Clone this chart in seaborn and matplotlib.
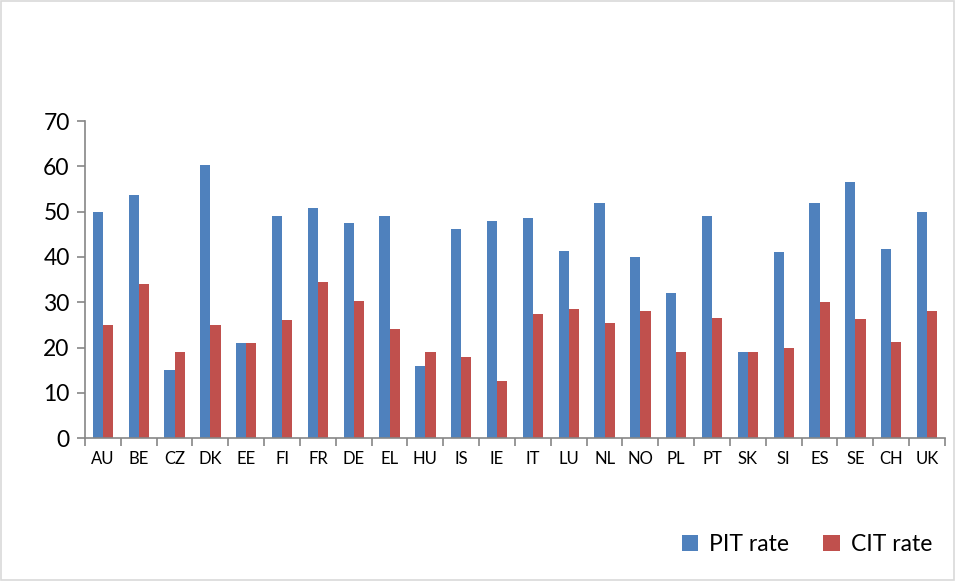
import numpy as np
import pandas as pd
import matplotlib
matplotlib.use("Agg")
import matplotlib.pyplot as plt
import seaborn as sns
from matplotlib.patches import Patch, Rectangle

# chart data
countries = ["AU", "BE", "CZ", "DK", "EE", "FI", "FR", "DE", "EL", "HU", "IS", "IE",
             "IT", "LU", "NL", "NO", "PL", "PT", "SK", "SI", "ES", "SE", "CH", "UK"]
pit_rate = [50, 53.7, 15, 60.2, 21, 49, 50.7, 47.5, 49, 16, 46.2, 48,
            48.6, 41.3, 52, 40, 32, 49, 19, 41, 52, 56.6, 41.7, 50]
cit_rate = [25, 34, 19, 25, 21, 26, 34.4, 30.2, 24, 19, 18, 12.5,
            27.5, 28.6, 25.5, 28, 19, 26.5, 19, 20, 30, 26.3, 21.2, 28]
series = ["PIT rate", "CIT rate"]
colors = ["#4F81BD", "#C0504D"]

df = pd.DataFrame({
    "country": countries * 2,
    "rate": pit_rate + cit_rate,
    "series": [series[0]] * len(countries) + [series[1]] * len(countries),
})

sns.set_theme(style="white")
plt.rcParams["font.family"] = ["Lato", "DejaVu Sans"]
plt.rcParams["text.color"] = "black"
plt.rcParams["xtick.color"] = "black"
plt.rcParams["ytick.color"] = "black"

fig = plt.figure(figsize=(9.55, 5.81), dpi=100)
ax = fig.add_axes([0.089, 0.246, 0.9005, 0.5456])

sns.barplot(data=df, x="country", y="rate", hue="series", palette=colors,
            width=0.57, gap=0, ax=ax, legend=False, saturation=1,
            edgecolor="none")

ax.set_ylim(0, 70)
ax.set_xlim(-0.5, len(countries) - 0.5)
ax.set_yticks(range(0, 71, 10))
ax.set_xlabel("")
ax.set_ylabel("")

for side in ["top", "right"]:
    ax.spines[side].set_visible(False)
for side in ["left", "bottom"]:
    ax.spines[side].set_color("#868686")
    ax.spines[side].set_linewidth(1.2)

ax.tick_params(axis="y", which="major", direction="out", length=6, color="#868686",
               width=1.2, labelsize=16.5, left=True, pad=5, labelcolor="black")
ax.tick_params(axis="x", which="major", length=0, labelsize=12, pad=9,
               labelcolor="black")
ax.set_xticks(np.arange(-0.5, len(countries), 1), minor=True)
ax.tick_params(axis="x", which="minor", direction="out", length=6, color="#868686",
               width=1.2, bottom=True)

handles = [Patch(facecolor=c, edgecolor="none") for c in colors]
fig.legend(handles, series, loc="center", bbox_to_anchor=(0.845, 0.062), ncol=2,
           frameon=False, fontsize=16.5, handlelength=0.7, handleheight=0.7,
           handletextpad=0.5, columnspacing=1.5)

fig.patches.append(Rectangle((0.001, 0.001), 0.998, 0.997, transform=fig.transFigure,
                             fill=False, edgecolor="#D9D9D9", linewidth=1.2))

fig.savefig("out.png", dpi=100)
